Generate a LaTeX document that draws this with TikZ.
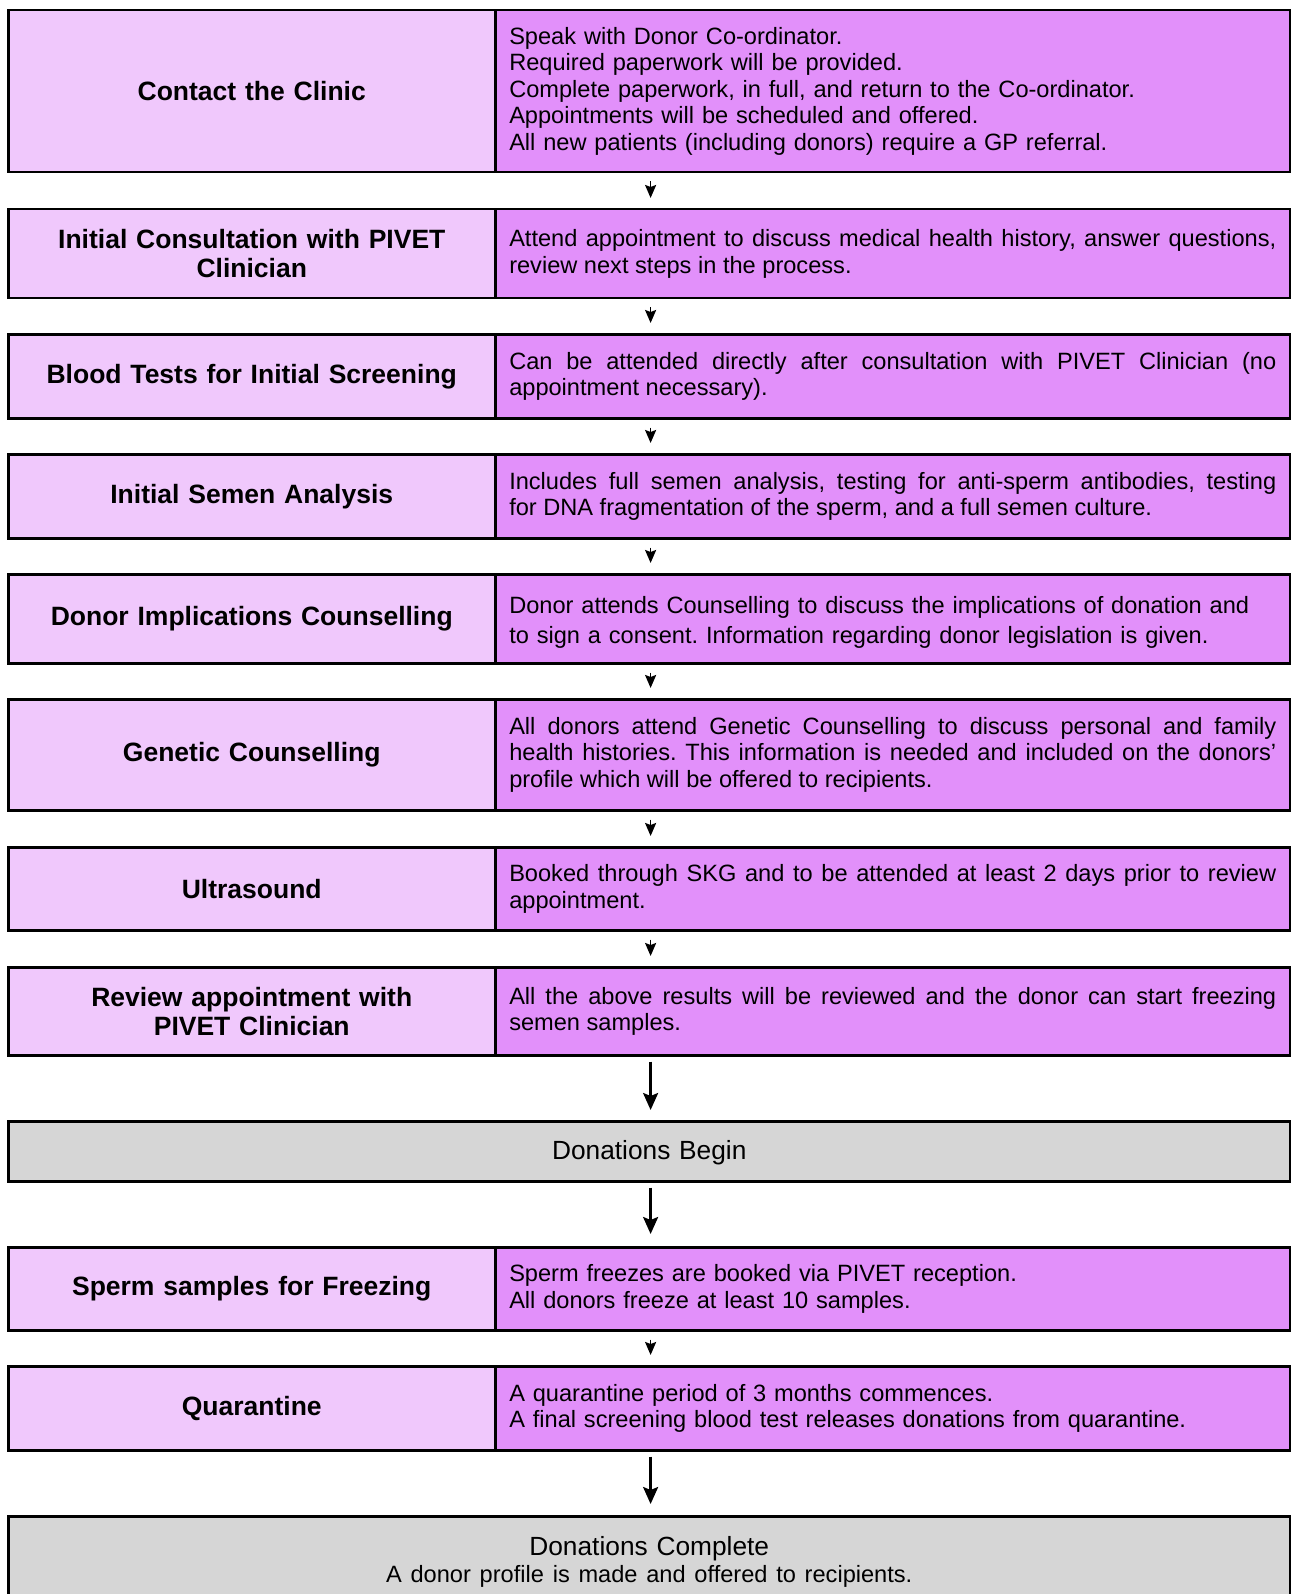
\documentclass[tikz,border=0pt]{standalone}
\usepackage{fontspec}
\setmainfont{Liberation Sans}
\usetikzlibrary{arrows.meta}
\hbadness=10000 \hfuzz=20pt
\frenchspacing
\definecolor{leftfill}{HTML}{F0C8FC}
\definecolor{rightfill}{HTML}{E290FA}
\definecolor{grayfill}{HTML}{D6D6D6}
\tikzset{
  cell/.style={draw=black, line width=2.5pt, rectangle, inner sep=0pt, anchor=north west},
  leftcell/.style={cell, fill=leftfill, minimum width=487pt, text width=460pt, align=center,
     font=\bfseries\fontsize{26.5}{29}\selectfont},
  rightcell/.style={cell, fill=rightfill, minimum width=795pt, text width=767pt,
     font=\fontsize{23.6}{26.5}\selectfont},
  graycell/.style={cell, fill=grayfill, minimum width=1282pt, text width=1200pt, align=center,
     font=\fontsize{26.3}{27}\selectfont},
  smallarrow/.style={line width=1.7pt, -{Stealth[length=13pt,width=11pt,inset=2pt]}},
  bigarrow/.style={line width=2.5pt, -{Stealth[length=17pt,width=15pt,inset=3pt]}},
}
\begin{document}
\begin{tikzpicture}[x=1pt,y=-1pt]
\useasboundingbox (0,0) rectangle (1290,1594);
% rows
\node[leftcell, minimum height=162pt] (l1) at (7,9) {Contact the Clinic};
\node[rightcell, minimum height=162pt, align=left] (r1) at (494,9) {Speak with Donor Co-ordinator.\\Required paperwork will be provided.\\Complete paperwork, in full, and return to the Co-ordinator.\\Appointments will be scheduled and offered.\\All new patients (including donors) require a GP referral.};

\node[leftcell, minimum height=89pt] (l2) at (7,208) {Initial Consultation with PIVET\\Clinician};
\node[rightcell, minimum height=89pt, align=justify] (r2) at (494,208) {Attend appointment to discuss medical health history, answer questions,\linebreak review next steps in the process.};

\node[leftcell, minimum height=84pt] (l3) at (7,333) {Blood Tests for Initial Screening};
\node[rightcell, minimum height=84pt, align=justify] (r3) at (494,333) {Can be attended directly after consultation with PIVET Clinician (no\linebreak appointment necessary).};

\node[leftcell, minimum height=84pt] (l4) at (7,453) {Initial Semen Analysis};
\node[rightcell, minimum height=84pt, align=justify] (r4) at (494,453) {Includes full semen analysis, testing for anti-sperm antibodies, testing\linebreak for DNA fragmentation of the sperm, and a full semen culture.};

\node[leftcell, minimum height=89pt] (l5) at (7,573) {Donor Implications Counselling};
\node[rightcell, minimum height=89pt, align=left, font=\fontsize{23.6}{30}\selectfont] (r5) at (494,573) {\rule{0pt}{25pt}Donor attends Counselling to discuss the implications of donation and\\to sign a consent. Information regarding donor legislation is given.};

\node[leftcell, minimum height=111pt] (l6) at (7,698) {Genetic Counselling};
\node[rightcell, minimum height=111pt, align=justify] (r6) at (494,698) {All donors attend Genetic Counselling to discuss personal and family\linebreak health histories. This information is needed and included on the donors’\linebreak profile which will be offered to recipients.};

\node[leftcell, minimum height=83pt] (l7) at (7,846) {Ultrasound};
\node[rightcell, minimum height=83pt, align=justify] (r7) at (494,846) {Booked through SKG and to be attended at least 2 days prior to review\linebreak appointment.};

\node[leftcell, minimum height=88pt] (l8) at (7,966) {Review appointment with\\PIVET Clinician};
\node[rightcell, minimum height=88pt, align=justify] (r8) at (494,966) {All the above results will be reviewed and the donor can start freezing\linebreak semen samples.};

\node[graycell, minimum height=60pt] (db) at (7,1120) {\rule{0pt}{21pt}Donations Begin};

\node[leftcell, minimum height=83pt] (l9) at (7,1246) {Sperm samples for Freezing};
\node[rightcell, minimum height=83pt, align=left] (r9) at (494,1246) {Sperm freezes are booked via PIVET reception.\\All donors freeze at least 10 samples.};

\node[leftcell, minimum height=84pt] (l10) at (7,1365) {Quarantine};
\node[rightcell, minimum height=84pt, align=left] (r10) at (494,1365) {A quarantine period of 3 months commences.\\A final screening blood test releases donations from quarantine.};

\node[graycell, minimum height=92pt] (dc) at (7,1515) {Donations Complete\\{\fontsize{23.6}{26.5}\selectfont A donor profile is made and offered to recipients.}};

% connectors
\foreach \a/\b in {r1/r2, r2/r3, r3/r4, r4/r5, r5/r6, r6/r7, r7/r8, r9/r10}{
  \draw[smallarrow] ([xshift=156.6pt, yshift=-8pt]\a.south west) -- ([xshift=156.6pt, yshift=10pt]\b.north west);
}
\draw[bigarrow] ([xshift=156.6pt, yshift=-5pt]r8.south west) -- ([xshift=643.6pt, yshift=10pt]db.north west);
\draw[bigarrow] ([xshift=643.6pt, yshift=-5pt]db.south west) -- ([xshift=156.6pt, yshift=12pt]r9.north west);
\draw[bigarrow] ([xshift=156.6pt, yshift=-5pt]r10.south west) -- ([xshift=643.6pt, yshift=11pt]dc.north west);
\end{tikzpicture}
\end{document}
